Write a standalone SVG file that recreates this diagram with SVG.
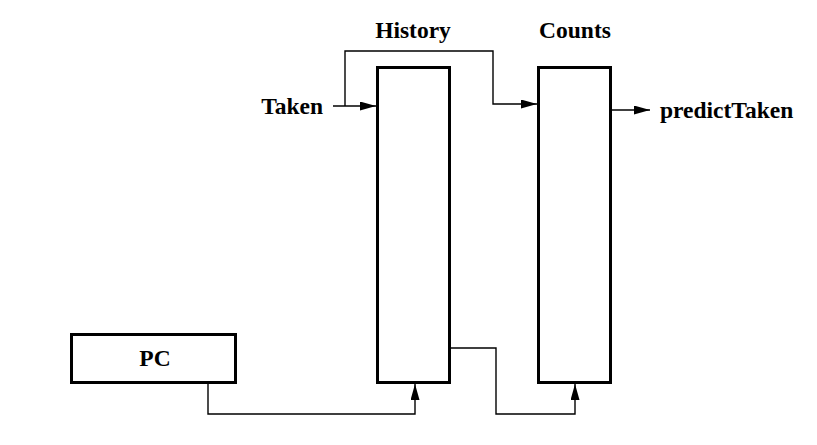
<svg xmlns="http://www.w3.org/2000/svg" width="817" height="445" viewBox="0 0 817 445">
<style>
.box{fill:#fff;stroke:#000;stroke-width:3}
.w{fill:none;stroke:#000;stroke-width:1.4}
.t{font-family:"Liberation Serif","Times New Roman",serif;font-weight:bold;font-size:23.5px;fill:#000}
</style>
<defs>
<marker id="ah" viewBox="0 0 16 9" refX="16" refY="4.5" markerWidth="16" markerHeight="9" markerUnits="userSpaceOnUse" orient="auto">
<path d="M0,0 L16,4.5 L0,9 Z" fill="#000"/>
</marker>
</defs>
<rect width="817" height="445" fill="#fff"/>
<g id="connectors">
<path class="w" d="M333,106 H376" marker-end="url(#ah)"/>
<path class="w" d="M345,106 V51 H493 V104 H537" marker-end="url(#ah)"/>
<path class="w" d="M611,110 H650" marker-end="url(#ah)"/>
<path class="w" d="M451,348 H496 V414 H575 V384" marker-end="url(#ah)"/>
<path class="w" d="M208,384 V414 H415 V384" marker-end="url(#ah)"/>
</g>
<g id="history">
<rect class="box" x="377.5" y="67.5" width="72" height="315"/>
<text class="t" x="413" y="38" text-anchor="middle">History</text>
</g>
<g id="counts">
<rect class="box" x="538.5" y="67.5" width="72" height="315"/>
<text class="t" x="575" y="38" text-anchor="middle">Counts</text>
</g>
<g id="pc">
<rect class="box" x="71.5" y="334.5" width="164" height="48"/>
<text class="t" x="155" y="366" text-anchor="middle">PC</text>
</g>
<g id="taken">
<text class="t" x="323" y="114" text-anchor="end">Taken</text>
</g>
<g id="predictTaken">
<text class="t" x="660" y="118">predictTaken</text>
</g>
</svg>
